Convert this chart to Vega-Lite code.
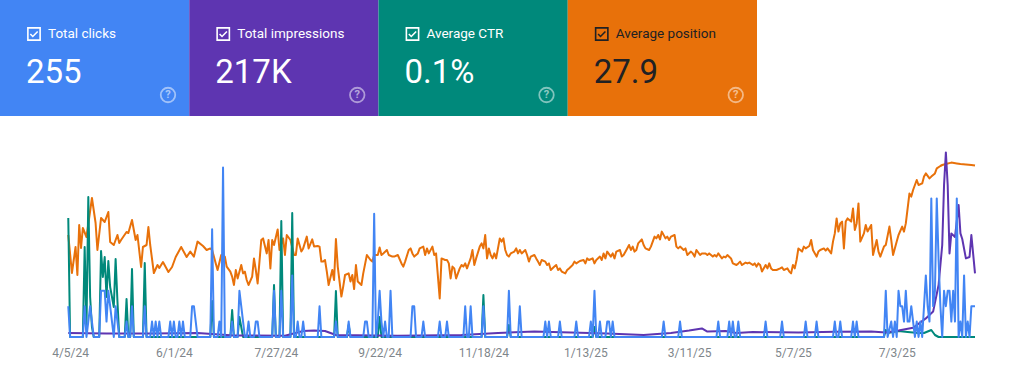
{
"$schema": "https://vega.github.io/schema/vega-lite/v6.json",
"padding": 0,
"background": "#ffffff",
"spacing": 24,
"config": {"view": {"stroke": null}, "font": "Roboto"},
"datasets": {
"cards": [
{"metric": "Total clicks", "value": "255"},
{"metric": "Total impressions", "value": "217K"},
{"metric": "Average CTR", "value": "0.1%"},
{"metric": "Average position", "value": "27.9"}
],
"position": [
{"d":"2024-04-04","p":47.5},{"d":"2024-04-06","p":66.5},{"d":"2024-04-08","p":53.5},{"d":"2024-04-09","p":67.5},{"d":"2024-04-10","p":42.5},{"d":"2024-04-11","p":54},{"d":"2024-04-12","p":44},{"d":"2024-04-14","p":48.5},{"d":"2024-04-17","p":29},{"d":"2024-04-19","p":41.5},{"d":"2024-04-20","p":55},{"d":"2024-04-22","p":39},{"d":"2024-04-24","p":41},{"d":"2024-04-26","p":36},{"d":"2024-04-27","p":51},{"d":"2024-04-29","p":52.5},
{"d":"2024-05-01","p":47.5},{"d":"2024-05-02","p":51.5},{"d":"2024-05-03","p":50},{"d":"2024-05-06","p":46},{"d":"2024-05-07","p":46.5},{"d":"2024-05-09","p":40},{"d":"2024-05-11","p":50},{"d":"2024-05-12","p":47.5},{"d":"2024-05-14","p":63.5},{"d":"2024-05-15","p":53.5},{"d":"2024-05-17","p":52.5},{"d":"2024-05-18","p":43.5},{"d":"2024-05-19","p":52.5},{"d":"2024-05-21","p":66.5},{"d":"2024-05-23","p":62.5},{"d":"2024-05-24","p":64},{"d":"2024-05-26","p":61},{"d":"2024-05-29","p":66},{"d":"2024-05-31","p":63.5},
{"d":"2024-06-02","p":58.5},{"d":"2024-06-05","p":53.5},{"d":"2024-06-08","p":58.5},{"d":"2024-06-10","p":55.8},{"d":"2024-06-12","p":58.3},{"d":"2024-06-14","p":50.8},{"d":"2024-06-17","p":53},{"d":"2024-06-19","p":55},{"d":"2024-06-21","p":54.2},{"d":"2024-06-22","p":55},{"d":"2024-06-24","p":61.7},{"d":"2024-06-25","p":65},{"d":"2024-06-27","p":57.5},{"d":"2024-06-29","p":58.3},{"d":"2024-06-30","p":63.3},
{"d":"2024-07-02","p":65.8},{"d":"2024-07-03","p":68.3},{"d":"2024-07-04","p":72.5},{"d":"2024-07-05","p":65},{"d":"2024-07-06","p":69.2},{"d":"2024-07-08","p":62.5},{"d":"2024-07-09","p":66.7},{"d":"2024-07-10","p":65.8},{"d":"2024-07-11","p":70},{"d":"2024-07-12","p":72.5},{"d":"2024-07-14","p":68.3},{"d":"2024-07-15","p":59.2},{"d":"2024-07-16","p":65},{"d":"2024-07-17","p":71.7},{"d":"2024-07-19","p":50},{"d":"2024-07-20","p":49.2},{"d":"2024-07-22","p":56.7},{"d":"2024-07-23","p":50},{"d":"2024-07-24","p":64.2},{"d":"2024-07-25","p":50},{"d":"2024-07-26","p":52.5},{"d":"2024-07-28","p":44.7},{"d":"2024-07-29","p":55},{"d":"2024-07-31","p":49.2},
{"d":"2024-08-01","p":57.5},{"d":"2024-08-02","p":47.5},{"d":"2024-08-04","p":50},{"d":"2024-08-06","p":57.5},{"d":"2024-08-07","p":57.5},{"d":"2024-08-08","p":49.2},{"d":"2024-08-10","p":55.8},{"d":"2024-08-11","p":54.2},{"d":"2024-08-13","p":48.3},{"d":"2024-08-14","p":54.2},{"d":"2024-08-16","p":49.7},{"d":"2024-08-17","p":53.3},{"d":"2024-08-19","p":53},{"d":"2024-08-20","p":53.3},{"d":"2024-08-21","p":60.8},{"d":"2024-08-22","p":60.8},{"d":"2024-08-23","p":60},{"d":"2024-08-24","p":65.8},{"d":"2024-08-25","p":72.5},{"d":"2024-08-27","p":65},{"d":"2024-08-28","p":70},{"d":"2024-08-29","p":49.5},{"d":"2024-08-30","p":63.3},
{"d":"2024-09-01","p":78.3},{"d":"2024-09-02","p":73.3},{"d":"2024-09-03","p":67.5},{"d":"2024-09-05","p":66.7},{"d":"2024-09-06","p":70.8},{"d":"2024-09-07","p":67.5},{"d":"2024-09-08","p":74.5},{"d":"2024-09-09","p":62.5},{"d":"2024-09-10","p":70.8},{"d":"2024-09-12","p":72.5},{"d":"2024-09-13","p":66.7},{"d":"2024-09-15","p":57.5},{"d":"2024-09-17","p":60},{"d":"2024-09-18","p":60.8},{"d":"2024-09-19","p":57.5},{"d":"2024-09-21","p":57.5},{"d":"2024-09-22","p":53.7},{"d":"2024-09-23","p":57.5},{"d":"2024-09-24","p":56.7},{"d":"2024-09-26","p":55},{"d":"2024-09-27","p":57.5},{"d":"2024-09-29","p":58.3},{"d":"2024-09-30","p":58.3},
{"d":"2024-10-02","p":57.5},{"d":"2024-10-04","p":61.7},{"d":"2024-10-05","p":63.3},{"d":"2024-10-06","p":60.8},{"d":"2024-10-08","p":55},{"d":"2024-10-09","p":54.2},{"d":"2024-10-10","p":56.7},{"d":"2024-10-11","p":58.3},{"d":"2024-10-13","p":56.7},{"d":"2024-10-14","p":54.2},{"d":"2024-10-16","p":53.3},{"d":"2024-10-17","p":57.5},{"d":"2024-10-18","p":54.2},{"d":"2024-10-19","p":56.7},{"d":"2024-10-21","p":53.3},{"d":"2024-10-22","p":57.5},{"d":"2024-10-23","p":56.7},{"d":"2024-10-25","p":79.2},{"d":"2024-10-26","p":59.2},{"d":"2024-10-28","p":60},{"d":"2024-10-29","p":60},{"d":"2024-10-30","p":61.7},{"d":"2024-10-31","p":69.2},
{"d":"2024-11-01","p":63.3},{"d":"2024-11-02","p":64.2},{"d":"2024-11-03","p":69.2},{"d":"2024-11-05","p":64.2},{"d":"2024-11-06","p":62.5},{"d":"2024-11-07","p":63.3},{"d":"2024-11-08","p":61.7},{"d":"2024-11-09","p":64.2},{"d":"2024-11-11","p":59.2},{"d":"2024-11-12","p":55},{"d":"2024-11-13","p":62.5},{"d":"2024-11-14","p":59.2},{"d":"2024-11-16","p":53.3},{"d":"2024-11-17","p":51.7},{"d":"2024-11-18","p":54.2},{"d":"2024-11-19","p":47.5},{"d":"2024-11-20","p":59.2},{"d":"2024-11-21","p":54.2},{"d":"2024-11-22","p":57.5},{"d":"2024-11-23","p":59.2},{"d":"2024-11-24","p":56.7},{"d":"2024-11-25","p":59.2},{"d":"2024-11-27","p":49.2},{"d":"2024-11-28","p":50.8},{"d":"2024-11-29","p":49.2},{"d":"2024-11-30","p":55},
{"d":"2024-12-01","p":57.5},{"d":"2024-12-02","p":58.3},{"d":"2024-12-03","p":56.7},{"d":"2024-12-05","p":55.8},{"d":"2024-12-06","p":54.2},{"d":"2024-12-07","p":56.7},{"d":"2024-12-08","p":55},{"d":"2024-12-09","p":56.7},{"d":"2024-12-11","p":55},{"d":"2024-12-12","p":57.5},{"d":"2024-12-13","p":60.8},{"d":"2024-12-14","p":58.3},{"d":"2024-12-16","p":57.5},{"d":"2024-12-17","p":59.2},{"d":"2024-12-18","p":60.8},{"d":"2024-12-19","p":62.5},{"d":"2024-12-20","p":60},{"d":"2024-12-22","p":60.8},{"d":"2024-12-23","p":62.5},{"d":"2024-12-24","p":61.7},{"d":"2024-12-25","p":65},{"d":"2024-12-27","p":63.3},{"d":"2024-12-28","p":62.5},{"d":"2024-12-29","p":65},{"d":"2024-12-30","p":64.2},{"d":"2024-12-31","p":65.8},
{"d":"2025-01-02","p":66.7},{"d":"2025-01-03","p":65},{"d":"2025-01-04","p":64.2},{"d":"2025-01-06","p":62.5},{"d":"2025-01-07","p":60.8},{"d":"2025-01-08","p":61.7},{"d":"2025-01-10","p":60.5},{"d":"2025-01-12","p":60},{"d":"2025-01-13","p":61.7},{"d":"2025-01-14","p":59.2},{"d":"2025-01-15","p":60},{"d":"2025-01-17","p":59.2},{"d":"2025-01-18","p":61.7},{"d":"2025-01-19","p":60},{"d":"2025-01-21","p":58.3},{"d":"2025-01-22","p":60},{"d":"2025-01-23","p":56.7},{"d":"2025-01-24","p":59.2},{"d":"2025-01-25","p":55.8},{"d":"2025-01-27","p":58.3},{"d":"2025-01-28","p":56.7},{"d":"2025-01-29","p":59.2},{"d":"2025-01-30","p":55.8},
{"d":"2025-02-01","p":55},{"d":"2025-02-02","p":58.3},{"d":"2025-02-03","p":57.5},{"d":"2025-02-05","p":54.2},{"d":"2025-02-06","p":52.5},{"d":"2025-02-07","p":55},{"d":"2025-02-08","p":53.3},{"d":"2025-02-09","p":55.8},{"d":"2025-02-10","p":55},{"d":"2025-02-11","p":51.7},{"d":"2025-02-13","p":49.7},{"d":"2025-02-14","p":52.5},{"d":"2025-02-15","p":54.2},{"d":"2025-02-17","p":55},{"d":"2025-02-18","p":53.3},{"d":"2025-02-20","p":48.3},{"d":"2025-02-21","p":49.2},{"d":"2025-02-22","p":47.5},{"d":"2025-02-23","p":49.7},{"d":"2025-02-24","p":45.8},{"d":"2025-02-26","p":49.2},{"d":"2025-02-27","p":48.3},{"d":"2025-02-28","p":50},
{"d":"2025-03-01","p":48.3},{"d":"2025-03-03","p":47.5},{"d":"2025-03-04","p":53.3},{"d":"2025-03-05","p":54.2},{"d":"2025-03-06","p":53.3},{"d":"2025-03-08","p":55},{"d":"2025-03-09","p":54.2},{"d":"2025-03-10","p":57.5},{"d":"2025-03-12","p":55.8},{"d":"2025-03-13","p":56.7},{"d":"2025-03-14","p":58.3},{"d":"2025-03-15","p":55},{"d":"2025-03-17","p":57.5},{"d":"2025-03-18","p":56.7},{"d":"2025-03-20","p":56.7},{"d":"2025-03-21","p":57.5},{"d":"2025-03-22","p":56.7},{"d":"2025-03-24","p":58.3},{"d":"2025-03-25","p":57.5},{"d":"2025-03-26","p":58.3},{"d":"2025-03-27","p":56.7},{"d":"2025-03-29","p":59.2},{"d":"2025-03-30","p":58.3},{"d":"2025-03-31","p":58.7},
{"d":"2025-04-01","p":57.5},{"d":"2025-04-03","p":59.2},{"d":"2025-04-04","p":61.7},{"d":"2025-04-06","p":62.5},{"d":"2025-04-07","p":61.7},{"d":"2025-04-08","p":60.8},{"d":"2025-04-09","p":62.5},{"d":"2025-04-11","p":61.3},{"d":"2025-04-12","p":61.7},{"d":"2025-04-13","p":61.3},{"d":"2025-04-15","p":62.5},{"d":"2025-04-16","p":61.7},{"d":"2025-04-17","p":63.3},{"d":"2025-04-18","p":61.7},{"d":"2025-04-19","p":62.5},{"d":"2025-04-20","p":65.8},{"d":"2025-04-22","p":62.5},{"d":"2025-04-23","p":64.2},{"d":"2025-04-24","p":61.7},{"d":"2025-04-25","p":64.2},{"d":"2025-04-26","p":65},{"d":"2025-04-28","p":65},{"d":"2025-04-30","p":64.2},
{"d":"2025-05-01","p":63.7},{"d":"2025-05-02","p":65},{"d":"2025-05-04","p":64.2},{"d":"2025-05-05","p":65.8},{"d":"2025-05-06","p":66.7},{"d":"2025-05-07","p":62.5},{"d":"2025-05-08","p":64.2},{"d":"2025-05-09","p":60},{"d":"2025-05-10","p":54.2},{"d":"2025-05-12","p":55.8},{"d":"2025-05-13","p":53.3},{"d":"2025-05-14","p":54.2},{"d":"2025-05-16","p":53},{"d":"2025-05-17","p":50},{"d":"2025-05-18","p":55},{"d":"2025-05-20","p":58.3},{"d":"2025-05-21","p":55.8},{"d":"2025-05-22","p":55},{"d":"2025-05-24","p":54.2},{"d":"2025-05-25","p":55.3},{"d":"2025-05-26","p":54.2},{"d":"2025-05-28","p":56.7},{"d":"2025-05-29","p":50.8},{"d":"2025-05-30","p":46.7},{"d":"2025-05-31","p":39.2},
{"d":"2025-06-01","p":45.8},{"d":"2025-06-02","p":41.7},{"d":"2025-06-03","p":40.8},{"d":"2025-06-04","p":54.2},{"d":"2025-06-05","p":40.8},{"d":"2025-06-06","p":39.2},{"d":"2025-06-08","p":40.8},{"d":"2025-06-09","p":34.2},{"d":"2025-06-10","p":45},{"d":"2025-06-11","p":41.7},{"d":"2025-06-12","p":31.7},{"d":"2025-06-13","p":50.8},{"d":"2025-06-15","p":46.7},{"d":"2025-06-16","p":42.5},{"d":"2025-06-17","p":45.8},{"d":"2025-06-19","p":42.5},{"d":"2025-06-20","p":57.5},{"d":"2025-06-22","p":50},{"d":"2025-06-23","p":55.8},{"d":"2025-06-24","p":58.3},{"d":"2025-06-26","p":53.3},{"d":"2025-06-27","p":52.5},{"d":"2025-06-29","p":43.3},{"d":"2025-06-30","p":50},
{"d":"2025-07-01","p":57.5},{"d":"2025-07-03","p":50.8},{"d":"2025-07-04","p":47.5},{"d":"2025-07-06","p":43.3},{"d":"2025-07-07","p":45.8},{"d":"2025-07-08","p":41.7},{"d":"2025-07-10","p":26.7},{"d":"2025-07-11","p":28.3},{"d":"2025-07-12","p":25},{"d":"2025-07-14","p":20},{"d":"2025-07-15","p":22.5},{"d":"2025-07-17","p":21.7},{"d":"2025-07-18","p":18.3},{"d":"2025-07-19","p":16.7},{"d":"2025-07-21","p":19.2},{"d":"2025-07-22","p":18.3},{"d":"2025-07-24","p":16.7},{"d":"2025-07-25","p":14.2},{"d":"2025-07-27","p":13},{"d":"2025-07-28","p":12.5},{"d":"2025-07-30","p":12},
{"d":"2025-08-02","p":11.3},{"d":"2025-08-05","p":11.7},{"d":"2025-08-07","p":12},{"d":"2025-08-10","p":12.2},{"d":"2025-08-13","p":12.5},{"d":"2025-08-15","p":12.8}
],
"ctr": [
{"d":"2024-04-04","r":5.95},{"d":"2024-04-05","r":0},{"d":"2024-04-12","r":0},{"d":"2024-04-13","r":4.5},{"d":"2024-04-14","r":0.5},{"d":"2024-04-15","r":7.0},{"d":"2024-04-16","r":2},{"d":"2024-04-17","r":0.5},{"d":"2024-04-18","r":0},{"d":"2024-04-21","r":0},{"d":"2024-04-22","r":4.3},{"d":"2024-04-23","r":3},{"d":"2024-04-24","r":4.0},{"d":"2024-04-25","r":2},{"d":"2024-04-26","r":3.8},{"d":"2024-04-27","r":2.5},{"d":"2024-04-28","r":2.0},{"d":"2024-04-29","r":1.5},{"d":"2024-04-30","r":3.9},{"d":"2024-05-01","r":1.8},{"d":"2024-05-02","r":0},{"d":"2024-05-05","r":0},{"d":"2024-05-06","r":1.9},{"d":"2024-05-07","r":0},{"d":"2024-05-08","r":0},{"d":"2024-05-09","r":3.4},{"d":"2024-05-10","r":0},{"d":"2024-05-15","r":0},{"d":"2024-05-16","r":3.7},{"d":"2024-05-17","r":0},
{"d":"2024-06-21","r":0},{"d":"2024-06-22","r":1.8},{"d":"2024-06-23","r":0},{"d":"2024-07-02","r":0},{"d":"2024-07-03","r":1.35},{"d":"2024-07-04","r":0},{"d":"2024-07-06","r":0},{"d":"2024-07-07","r":1.0},{"d":"2024-07-08","r":0.5},{"d":"2024-07-09","r":0},{"d":"2024-07-25","r":0},{"d":"2024-07-26","r":2.6},{"d":"2024-07-27","r":0},{"d":"2024-07-29","r":0},{"d":"2024-07-30","r":5.8},{"d":"2024-07-31","r":0},{"d":"2024-08-04","r":0},{"d":"2024-08-05","r":6.2},{"d":"2024-08-06","r":0},{"d":"2024-08-28","r":0},{"d":"2024-08-29","r":2.3},{"d":"2024-08-30","r":0},{"d":"2024-09-04","r":0},{"d":"2024-09-05","r":0.6},{"d":"2024-09-06","r":0},{"d":"2024-09-21","r":0},{"d":"2024-09-22","r":1.0},{"d":"2024-09-23","r":0},{"d":"2024-11-17","r":0},{"d":"2024-11-18","r":2.1},{"d":"2024-11-19","r":0},{"d":"2024-12-01","r":0},{"d":"2024-12-02","r":0.6},{"d":"2024-12-03","r":0},{"d":"2025-01-17","r":0},{"d":"2025-01-18","r":0.5},{"d":"2025-01-19","r":0},
{"d":"2025-06-26","r":0},{"d":"2025-06-27","r":0.35},{"d":"2025-06-28","r":0.2},{"d":"2025-07-04","r":0.3},{"d":"2025-07-09","r":0.25},{"d":"2025-07-15","r":0.2},{"d":"2025-07-18","r":0.2},{"d":"2025-07-22","r":0.35},{"d":"2025-07-24","r":0.1},{"d":"2025-07-26","r":0},{"d":"2025-08-15","r":0}
],
"impressions": [
{"d":"2024-04-04","i":200},{"d":"2024-04-25","i":180},{"d":"2024-05-20","i":170},{"d":"2024-06-14","i":200},{"d":"2024-07-04","i":80},{"d":"2024-08-01","i":60},{"d":"2024-08-11","i":300},{"d":"2024-08-17","i":320},{"d":"2024-08-23","i":300},{"d":"2024-08-29","i":100},{"d":"2024-10-02","i":60},{"d":"2024-11-06","i":100},{"d":"2024-11-26","i":200},{"d":"2024-12-16","i":270},{"d":"2025-01-05","i":220},{"d":"2025-01-25","i":180},{"d":"2025-02-14","i":100},{"d":"2025-03-01","i":200},{"d":"2025-03-11","i":320},{"d":"2025-03-18","i":430},{"d":"2025-03-21","i":270},{"d":"2025-03-31","i":300},{"d":"2025-04-06","i":200},{"d":"2025-04-15","i":250},{"d":"2025-05-10","i":220},{"d":"2025-05-30","i":260},{"d":"2025-06-19","i":270},{"d":"2025-06-27","i":230},{"d":"2025-07-04","i":330},{"d":"2025-07-12","i":465},{"d":"2025-07-19","i":930},{"d":"2025-07-23","i":1270},{"d":"2025-07-26","i":2600},{"d":"2025-07-28","i":4600},{"d":"2025-07-29","i":7600},{"d":"2025-07-30","i":9230},{"d":"2025-07-31","i":7600},{"d":"2025-08-01","i":4180},{"d":"2025-08-02","i":5180},{"d":"2025-08-04","i":5000},{"d":"2025-08-06","i":6600},{"d":"2025-08-07","i":5180},{"d":"2025-08-08","i":4900},{"d":"2025-08-10","i":3930},{"d":"2025-08-12","i":4000},{"d":"2025-08-13","i":5100},{"d":"2025-08-15","i":3180}
],
"clicks": [
{"d":"2024-04-04","c":2},{"d":"2024-04-05","c":0},{"d":"2024-04-12","c":0},{"d":"2024-04-13","c":2},{"d":"2024-04-14","c":0},{"d":"2024-04-16","c":2},{"d":"2024-04-17","c":1},{"d":"2024-04-18","c":0},{"d":"2024-04-21","c":0},{"d":"2024-04-22","c":3},{"d":"2024-04-24","c":3},{"d":"2024-04-25","c":1},{"d":"2024-04-26","c":3},{"d":"2024-04-28","c":1},{"d":"2024-04-29","c":0},{"d":"2024-04-30","c":2},{"d":"2024-05-02","c":0},{"d":"2024-05-05","c":0},{"d":"2024-05-06","c":1},{"d":"2024-05-07","c":0},{"d":"2024-05-08","c":0},{"d":"2024-05-09","c":2},{"d":"2024-05-10","c":0},{"d":"2024-05-15","c":0},{"d":"2024-05-16","c":2},{"d":"2024-05-17","c":0},{"d":"2024-05-19","c":0},{"d":"2024-05-20","c":1},{"d":"2024-05-21","c":0},{"d":"2024-05-22","c":1},{"d":"2024-05-23","c":0},{"d":"2024-05-24","c":1},{"d":"2024-05-25","c":0},{"d":"2024-05-29","c":0},{"d":"2024-05-30","c":1},{"d":"2024-05-31","c":0},{"d":"2024-06-01","c":1},{"d":"2024-06-02","c":0},{"d":"2024-06-03","c":0},{"d":"2024-06-04","c":1},{"d":"2024-06-05","c":0},{"d":"2024-06-06","c":1},{"d":"2024-06-07","c":0},{"d":"2024-06-10","c":0},{"d":"2024-06-11","c":2},{"d":"2024-06-12","c":2},{"d":"2024-06-13","c":1},{"d":"2024-06-14","c":0},
{"d":"2024-06-21","c":0},{"d":"2024-06-22","c":7},{"d":"2024-06-23","c":0},{"d":"2024-06-25","c":0},{"d":"2024-06-26","c":1},{"d":"2024-06-27","c":0},{"d":"2024-06-28","c":11},{"d":"2024-06-29","c":0},{"d":"2024-07-02","c":0},{"d":"2024-07-03","c":1},{"d":"2024-07-04","c":0},{"d":"2024-07-06","c":0},{"d":"2024-07-07","c":3},{"d":"2024-07-08","c":2},{"d":"2024-07-09","c":1},{"d":"2024-07-10","c":0},{"d":"2024-07-11","c":0},{"d":"2024-07-12","c":1},{"d":"2024-07-13","c":0},{"d":"2024-07-15","c":0},{"d":"2024-07-16","c":1},{"d":"2024-07-17","c":1},{"d":"2024-07-18","c":0},{"d":"2024-07-25","c":0},{"d":"2024-07-26","c":3},{"d":"2024-07-27","c":0},{"d":"2024-07-29","c":0},{"d":"2024-07-30","c":3},{"d":"2024-07-31","c":0},{"d":"2024-08-04","c":0},{"d":"2024-08-05","c":4},{"d":"2024-08-06","c":0},{"d":"2024-08-07","c":0},{"d":"2024-08-08","c":1},{"d":"2024-08-09","c":0},{"d":"2024-08-10","c":0},{"d":"2024-08-11","c":1},{"d":"2024-08-12","c":0},{"d":"2024-08-19","c":0},{"d":"2024-08-20","c":2},{"d":"2024-08-21","c":0},{"d":"2024-08-28","c":0},{"d":"2024-08-29","c":1},{"d":"2024-08-30","c":0},
{"d":"2024-09-04","c":0},{"d":"2024-09-05","c":1},{"d":"2024-09-06","c":0},{"d":"2024-09-13","c":0},{"d":"2024-09-14","c":1},{"d":"2024-09-15","c":1},{"d":"2024-09-16","c":0},{"d":"2024-09-18","c":0},{"d":"2024-09-19","c":8},{"d":"2024-09-20","c":0},{"d":"2024-09-21","c":1},{"d":"2024-09-22","c":3},{"d":"2024-09-23","c":1},{"d":"2024-09-24","c":0},{"d":"2024-09-25","c":1},{"d":"2024-09-26","c":0},{"d":"2024-09-27","c":0},{"d":"2024-09-28","c":3},{"d":"2024-09-29","c":0},{"d":"2024-10-09","c":0},{"d":"2024-10-10","c":2},{"d":"2024-10-11","c":2},{"d":"2024-10-12","c":0},{"d":"2024-10-15","c":0},{"d":"2024-10-16","c":1},{"d":"2024-10-17","c":0},{"d":"2024-10-24","c":0},{"d":"2024-10-25","c":1},{"d":"2024-10-26","c":0},{"d":"2024-10-28","c":0},{"d":"2024-10-29","c":1},{"d":"2024-10-30","c":0},{"d":"2024-11-07","c":0},{"d":"2024-11-08","c":2},{"d":"2024-11-09","c":0},{"d":"2024-11-10","c":0},{"d":"2024-11-11","c":2},{"d":"2024-11-12","c":0},{"d":"2024-11-17","c":0},{"d":"2024-11-18","c":2},{"d":"2024-11-19","c":0},{"d":"2024-12-01","c":0},{"d":"2024-12-02","c":3},{"d":"2024-12-03","c":0},{"d":"2024-12-07","c":0},{"d":"2024-12-08","c":2},{"d":"2024-12-09","c":0},{"d":"2024-12-21","c":0},{"d":"2024-12-22","c":1},{"d":"2024-12-23","c":0},{"d":"2024-12-24","c":1},{"d":"2024-12-25","c":0},{"d":"2024-12-29","c":0},{"d":"2024-12-30","c":1},{"d":"2024-12-31","c":0},
{"d":"2025-01-07","c":0},{"d":"2025-01-08","c":1},{"d":"2025-01-09","c":0},{"d":"2025-01-15","c":0},{"d":"2025-01-16","c":1},{"d":"2025-01-17","c":0},{"d":"2025-01-18","c":3},{"d":"2025-01-19","c":0},{"d":"2025-01-20","c":0},{"d":"2025-01-21","c":1},{"d":"2025-01-22","c":0},{"d":"2025-01-24","c":0},{"d":"2025-01-25","c":1},{"d":"2025-01-26","c":1},{"d":"2025-01-27","c":0},{"d":"2025-01-28","c":1},{"d":"2025-01-29","c":0},{"d":"2025-02-24","c":0},{"d":"2025-02-25","c":1},{"d":"2025-02-26","c":0},{"d":"2025-03-05","c":0},{"d":"2025-03-06","c":1},{"d":"2025-03-07","c":0},{"d":"2025-03-26","c":0},{"d":"2025-03-27","c":1},{"d":"2025-03-28","c":0},{"d":"2025-04-01","c":0},{"d":"2025-04-02","c":1},{"d":"2025-04-03","c":0},{"d":"2025-04-04","c":1},{"d":"2025-04-05","c":0},{"d":"2025-04-06","c":0},{"d":"2025-04-07","c":1},{"d":"2025-04-08","c":0},{"d":"2025-04-21","c":0},{"d":"2025-04-22","c":1},{"d":"2025-04-23","c":0},{"d":"2025-04-30","c":0},{"d":"2025-05-01","c":1},{"d":"2025-05-02","c":0},{"d":"2025-05-13","c":0},{"d":"2025-05-14","c":1},{"d":"2025-05-15","c":0},{"d":"2025-05-19","c":0},{"d":"2025-05-20","c":1},{"d":"2025-05-21","c":0},{"d":"2025-05-29","c":0},{"d":"2025-05-30","c":1},{"d":"2025-05-31","c":0},{"d":"2025-06-01","c":0},{"d":"2025-06-02","c":1},{"d":"2025-06-03","c":0},{"d":"2025-06-08","c":0},{"d":"2025-06-09","c":1},{"d":"2025-06-10","c":0},{"d":"2025-06-11","c":1},{"d":"2025-06-12","c":0},
{"d":"2025-06-26","c":0},{"d":"2025-06-27","c":3},{"d":"2025-06-28","c":0},{"d":"2025-06-30","c":1},{"d":"2025-07-01","c":0},{"d":"2025-07-02","c":1},{"d":"2025-07-03","c":0},{"d":"2025-07-04","c":3},{"d":"2025-07-05","c":2},{"d":"2025-07-06","c":2},{"d":"2025-07-07","c":1},{"d":"2025-07-08","c":3},{"d":"2025-07-09","c":1},{"d":"2025-07-10","c":1},{"d":"2025-07-11","c":2},{"d":"2025-07-12","c":1},{"d":"2025-07-13","c":0},{"d":"2025-07-14","c":1},{"d":"2025-07-15","c":0},{"d":"2025-07-16","c":1},{"d":"2025-07-17","c":0},{"d":"2025-07-18","c":2},{"d":"2025-07-19","c":4},{"d":"2025-07-20","c":2},{"d":"2025-07-21","c":1},{"d":"2025-07-22","c":9},{"d":"2025-07-23","c":2},{"d":"2025-07-24","c":3},{"d":"2025-07-25","c":9},{"d":"2025-07-26","c":5},{"d":"2025-07-27","c":2},{"d":"2025-07-28","c":0},{"d":"2025-07-29","c":3},{"d":"2025-07-30","c":2},{"d":"2025-07-31","c":3},{"d":"2025-08-01","c":3},{"d":"2025-08-02","c":1},{"d":"2025-08-03","c":3},{"d":"2025-08-04","c":1},{"d":"2025-08-05","c":9},{"d":"2025-08-06","c":0},{"d":"2025-08-07","c":1},{"d":"2025-08-08","c":0},{"d":"2025-08-09","c":4},{"d":"2025-08-10","c":0},{"d":"2025-08-11","c":1},{"d":"2025-08-12","c":0},{"d":"2025-08-13","c":2},{"d":"2025-08-14","c":2},{"d":"2025-08-15","c":2}
]
},
"vconcat": [
{
"width": 757,
"height": 116,
"data": {"name": "cards"},
"encoding": {"x": {"field": "metric", "type": "nominal", "sort": null, "scale": {"paddingInner": 0, "paddingOuter": 0}, "axis": null}},
"layer": [
{"mark": {"type": "rect"}, "encoding": {"color": {"field": "metric", "type": "nominal", "sort": null, "scale": {"domain": ["Total clicks", "Total impressions", "Average CTR", "Average position"], "range": ["#4285F4", "#5E35B1", "#00897B", "#E8710A"]}, "legend": null}}},
{"mark": {"type": "point", "shape": "square", "filled": false, "size": 150, "strokeWidth": 1.6, "opacity": 1, "xOffset": 34, "yOffset": -24},
 "encoding": {"x": {"field": "metric", "type": "nominal", "sort": null, "bandPosition": 0}, "color": {"condition": {"test": "datum.metric === 'Average position'", "value": "#202124"}, "value": "#ffffff"}}},
{"mark": {"type": "point", "shape": "M-0.6,0L-0.2,0.4L0.6,-0.4", "filled": false, "size": 150, "strokeWidth": 1.6, "opacity": 1, "xOffset": 34, "yOffset": -24},
 "encoding": {"x": {"field": "metric", "type": "nominal", "sort": null, "bandPosition": 0}, "color": {"condition": {"test": "datum.metric === 'Average position'", "value": "#202124"}, "value": "#ffffff"}}},
{"mark": {"type": "text", "align": "left", "baseline": "middle", "font": "Roboto", "fontSize": 13.5, "xOffset": 48, "yOffset": -24},
 "encoding": {"x": {"field": "metric", "type": "nominal", "sort": null, "bandPosition": 0}, "text": {"field": "metric"}, "color": {"condition": {"test": "datum.metric === 'Average position'", "value": "#202124"}, "value": "#ffffff"}}},
{"mark": {"type": "text", "align": "left", "baseline": "alphabetic", "font": "Roboto", "fontSize": 33, "xOffset": 26, "yOffset": 25},
 "encoding": {"x": {"field": "metric", "type": "nominal", "sort": null, "bandPosition": 0}, "text": {"field": "value"}, "color": {"condition": {"test": "datum.metric === 'Average position'", "value": "#202124"}, "value": "#ffffff"}}},
{"mark": {"type": "point", "shape": "circle", "filled": false, "size": 210, "strokeWidth": 1.8, "color": "#ffffff", "opacity": 0.5, "xOffset": 168, "yOffset": 37},
 "encoding": {"x": {"field": "metric", "type": "nominal", "sort": null, "bandPosition": 0}}},
{"mark": {"type": "text", "text": "?", "align": "center", "baseline": "middle", "font": "Roboto", "fontSize": 11, "fontWeight": "bold", "color": "#ffffff", "opacity": 0.55, "xOffset": 168, "yOffset": 37},
 "encoding": {"x": {"field": "metric", "type": "nominal", "sort": null, "bandPosition": 0}}}
]
},
{
"width": 975,
"height": 197,
"encoding": {"x": {"field": "d", "type": "temporal",
  "scale": {"type": "utc", "domain": [{"year": 2024, "month": 2, "date": 26, "hours": 12, "utc": true}, {"year": 2025, "month": 8, "date": 15, "utc": true}]},
  "axis": {"values": [{"year": 2024, "month": 4, "date": 5, "utc": true}, {"year": 2024, "month": 6, "date": 1, "utc": true}, {"year": 2024, "month": 7, "date": 27, "utc": true}, {"year": 2024, "month": 9, "date": 22, "utc": true}, {"year": 2024, "month": 11, "date": 18, "utc": true}, {"year": 2025, "month": 1, "date": 13, "utc": true}, {"year": 2025, "month": 3, "date": 11, "utc": true}, {"year": 2025, "month": 5, "date": 7, "utc": true}, {"year": 2025, "month": 7, "date": 3, "utc": true}],
   "format": "%-m/%-d/%y", "labelFont": "Roboto", "labelFontSize": 12, "labelColor": "#80868b", "labelPadding": 10, "labelFlush": false, "labelOverlap": false, "ticks": false, "domain": false, "grid": false, "title": null}}},
"layer": [
{"data": {"name": "position"}, "mark": {"type": "line", "color": "#E8710A", "strokeWidth": 2, "strokeJoin": "round"},
 "encoding": {"y": {"field": "p", "type": "quantitative", "scale": {"domain": [0, 98.5], "reverse": true, "zero": false, "nice": false}, "axis": null}}},
{"data": {"name": "ctr"}, "mark": {"type": "line", "color": "#00897B", "strokeWidth": 2, "strokeJoin": "round"},
 "encoding": {"y": {"field": "r", "type": "quantitative", "scale": {"domain": [0, 9.85], "nice": false}, "axis": null}}},
{"data": {"name": "impressions"}, "mark": {"type": "line", "color": "#5E35B1", "strokeWidth": 2, "strokeJoin": "round"},
 "encoding": {"y": {"field": "i", "type": "quantitative", "scale": {"domain": [0, 9850], "nice": false}, "axis": null}}},
{"data": {"name": "clicks"}, "mark": {"type": "line", "color": "#4285F4", "strokeWidth": 2, "strokeJoin": "round"},
 "encoding": {"y": {"field": "c", "type": "quantitative", "scale": {"domain": [0, 12.79], "nice": false}, "axis": null}}}
],
"resolve": {"scale": {"y": "independent"}}
}
]
}
